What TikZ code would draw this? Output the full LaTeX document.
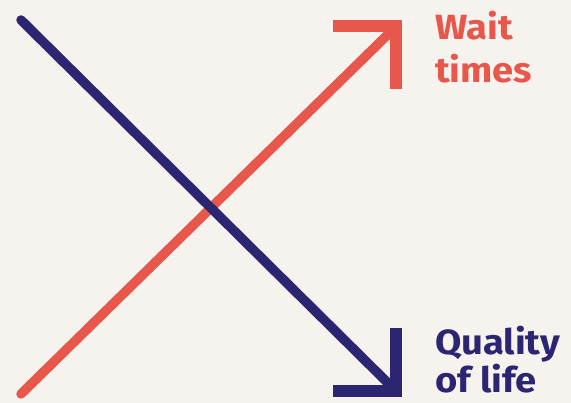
\documentclass[tikz,border=0pt]{standalone}
\usepackage{fontspec}
\setmainfont{Fira Sans}
\newfontfamily\lblfont[FakeStretch=1.09]{Fira Sans}
\definecolor{bgc}{HTML}{F6F3EE}
\definecolor{redc}{HTML}{E8574B}
\definecolor{navyc}{HTML}{2C2672}
\begin{document}
\begin{tikzpicture}[x=1pt,y=-1pt,
  trend/.style={line width=9.5pt,line cap=round},
  chevron/.style={line width=12pt,line cap=butt,line join=miter},
  lbl/.style={anchor=base west,inner sep=0pt,font=\lblfont\fontsize{35}{40}\selectfont\bfseries}]
\fill[bgc] (0,0) rectangle (571,403);
\useasboundingbox (0,0) rectangle (571,403);
% coordinates
\coordinate (rs) at (21,394);
\coordinate (re) at (396,26.5);
\coordinate (ra) at (333,26.5);
\coordinate (rb) at (396,89);
\coordinate (ns) at (21,20);
\coordinate (ne) at (396,391);
\coordinate (na) at (333,391);
\coordinate (nb) at (396,328);
% red line (below)
\draw[trend,redc] (rs) -- (re);
\draw[chevron,redc] (ra) -- (re) -- (rb);
% navy line (on top)
\draw[trend,navyc] (ns) -- (ne);
\draw[chevron,navyc] (na) -- (ne) -- (nb);
% labels
\node[lbl,text=redc] (w1) at (435,40) {Wait};
\node[lbl,text=redc] (w2) at (435,83) {times};
\node[lbl,text=navyc] (q1) at (435,355) {Quality};
\node[lbl,text=navyc] (q2) at (435,393) {of life};
\end{tikzpicture}
\end{document}
